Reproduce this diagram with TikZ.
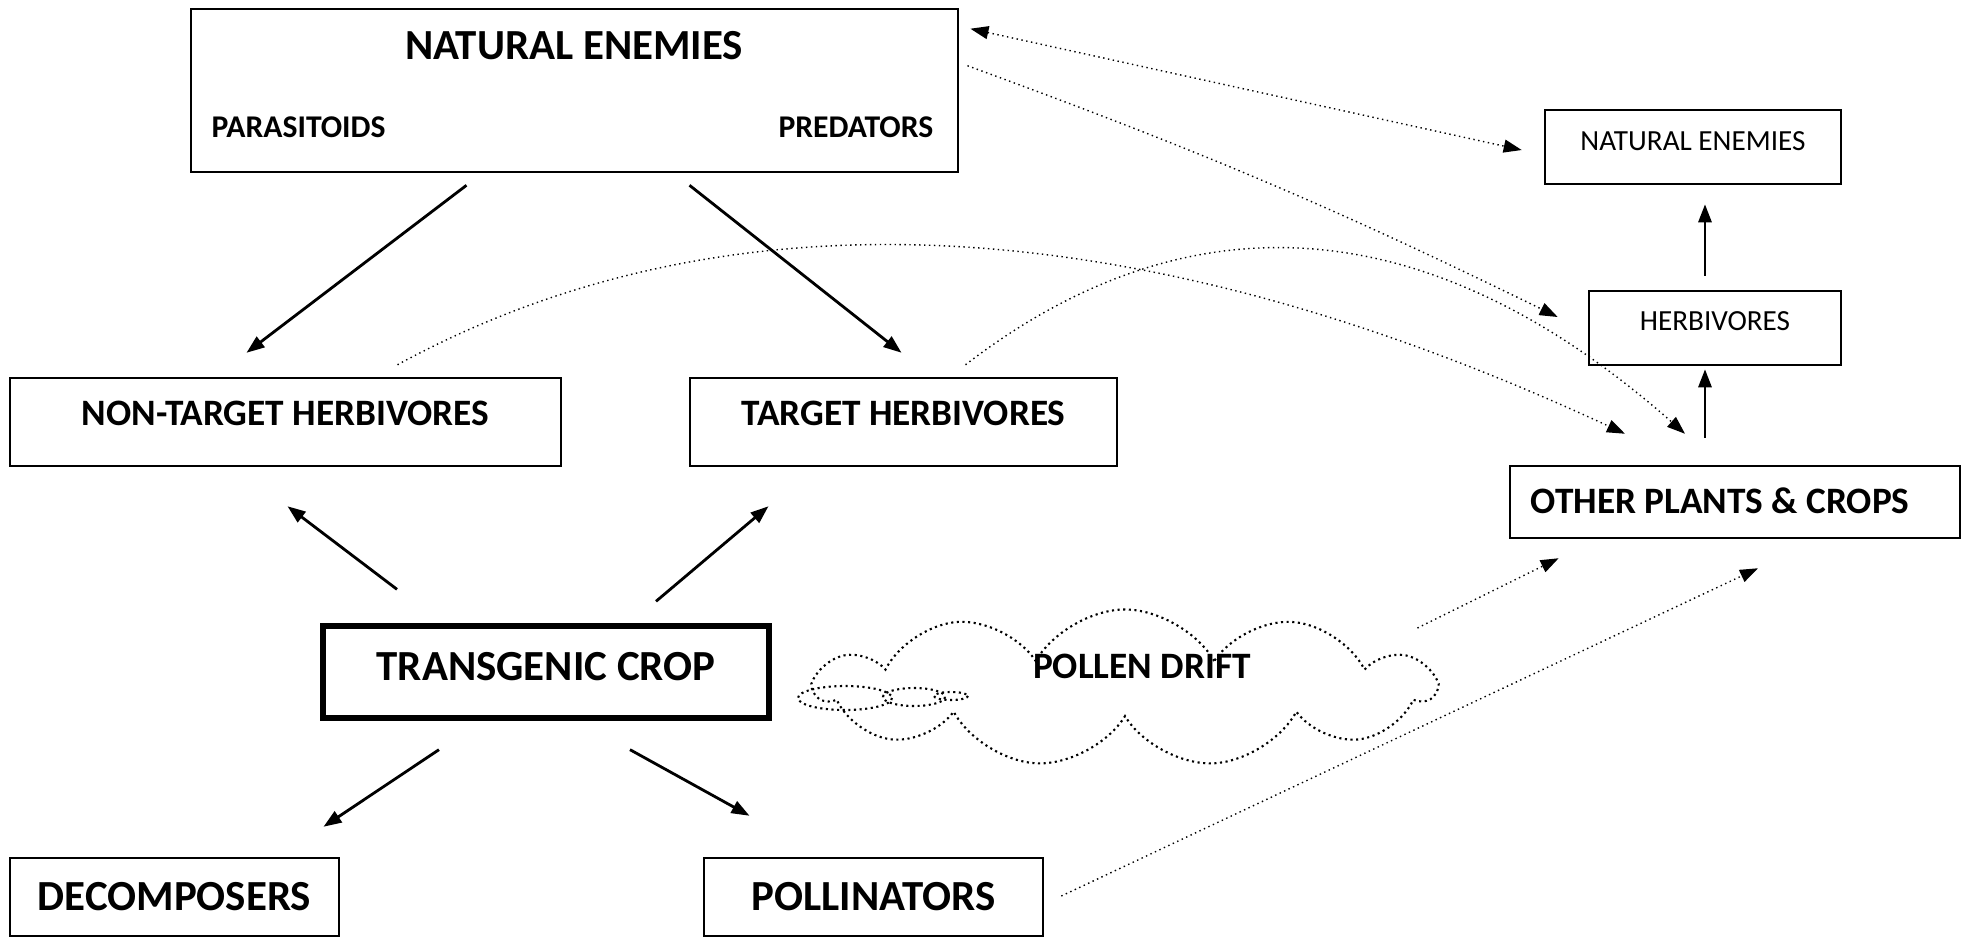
\documentclass[tikz,border=0pt]{standalone}
\usepackage{fontspec}
\setmainfont{Carlito}
\usetikzlibrary{arrows.meta}
\usetikzlibrary{shapes.symbols}

\begin{document}
\begin{tikzpicture} [x=0.01cm, y=-0.01cm,
            every node/.style={inner sep=0pt},
            >={Triangle[length=0.18cm,width=0.13cm]},
            box/.style={draw, line width=0.7pt},
            big/.style={font=\fontsize{12.2}{14}\selectfont\bfseries},
            mid/.style={font=\fontsize{10.6}{13}\selectfont\bfseries},
            sub/.style={font=\fontsize{9}{11}\selectfont\bfseries},
            plain/.style={font=\fontsize{8.3}{10}\selectfont},
            arr/.style={->, line width=0.8pt},
            drift/.style={->, densely dotted, line width=0.4pt}]
            \useasboundingbox (0,0) rectangle (1968,939);

            \node[box, minimum width=7.67cm, minimum height=1.63cm] (enemies) at (574.5,90.5) {};
            \node[big] (enemiestitle) at (574,46) {NATURAL ENEMIES};
            \node[sub, anchor=west] (parasitoids) at (211,127) {PARASITOIDS};
            \node[sub, anchor=east] (predators) at (934,127) {PREDATORS};

            \node[box, plain, minimum width=2.96cm, minimum height=0.74cm, text depth=0.12cm] (enemies2) at (1693,147) {NATURAL ENEMIES};
            \node[box, plain, minimum width=2.52cm, minimum height=0.74cm, text depth=0.14cm] (herbivores) at (1715,328) {HERBIVORES};
            \node[box, minimum width=4.5cm, minimum height=0.72cm] (others) at (1735,502) {};
            \node[mid, anchor=west] (otherslabel) at (1530,501) {OTHER PLANTS \& CROPS};

            \node[box, mid, minimum width=5.51cm, minimum height=0.88cm, text depth=0.18cm] (nontarget) at (285.5,422) {NON-TARGET HERBIVORES};
            \node[box, mid, minimum width=4.27cm, minimum height=0.88cm, text depth=0.18cm] (target) at (903.5,422) {TARGET HERBIVORES};
            \node[box, big, line width=1.5pt, minimum width=4.46cm, minimum height=0.92cm, text depth=0.12cm] (crop) at (546,672) {TRANSGENIC CROP};
            \node[box, big, minimum width=3.29cm, minimum height=0.78cm] (decomposers) at (174.5,897) {DECOMPOSERS};
            \node[box, big, minimum width=3.39cm, minimum height=0.78cm] (pollinators) at (873.5,897) {POLLINATORS};

            \node[cloud, draw, densely dotted, line width=0.6pt, cloud puffs=11, cloud puff arc=120, aspect=4,
                  minimum width=6.17cm, minimum height=1.57cm] (pollen) at (1125,688) {};
            \node[mid] (pollenlabel) at (1142,666) {POLLEN DRIFT};
            \draw[densely dotted, line width=0.6pt] (845,698) ellipse [x radius=47, y radius=12];
            \draw[densely dotted, line width=0.6pt] (914,697) ellipse [x radius=31, y radius=9];
            \draw[densely dotted, line width=0.6pt] (951,696) ellipse [x radius=17, y radius=4];

            \draw[arr] ([shift={(-108,12)}]enemies.south) -- ([shift={(-39,-24)}]nontarget.north);
            \draw[arr] ([shift={(115,12)}]enemies.south) -- ([shift={(-2,-24)}]target.north);
            \draw[arr] ([shift={(-149,-34)}]crop.north) -- ([shift={(2,39)}]nontarget.south);
            \draw[arr] ([shift={(110,-22)}]crop.north) -- ([shift={(-135,39)}]target.south);
            \draw[arr] ([shift={(-107,29)}]crop.south) -- ([shift={(149,-30)}]decomposers.north);
            \draw[arr] ([shift={(84,29)}]crop.south) -- ([shift={(-124,-41)}]pollinators.north);
            \draw[arr] ([shift={(-30,-27)}]others.north) -- ([shift={(-10,3)}]herbivores.south);
            \draw[arr] ([shift={(-10,-14)}]herbivores.north) -- ([shift={(12,19)}]enemies2.south);

            \draw[drift, <->] ([shift={(11,21)}]enemies.north east) -- ([shift={(-22,3)}]enemies2.west);
            \draw[drift] ([shift={(8,58)}]enemies.north east) to[bend left=3] ([shift={(-30,-11)}]herbivores.west);
            \draw[drift] ([shift={(112,-12)}]nontarget.north) .. controls (700,200) and (1100,190) .. ([shift={(-110,-31)}]others.north);
            \draw[drift] ([shift={(62,-12)}]target.north) .. controls (1180,200) and (1420,200) .. ([shift={(-50,-31)}]others.north);
            \draw[drift] ([shift={(-22,-60)}]pollen.east) -- ([shift={(50,19)}]others.south west);
            \draw[drift] ([shift={(17,-1)}]pollinators.east) -- ([shift={(23,29)}]others.south);
        \end{tikzpicture}
\end{document}
